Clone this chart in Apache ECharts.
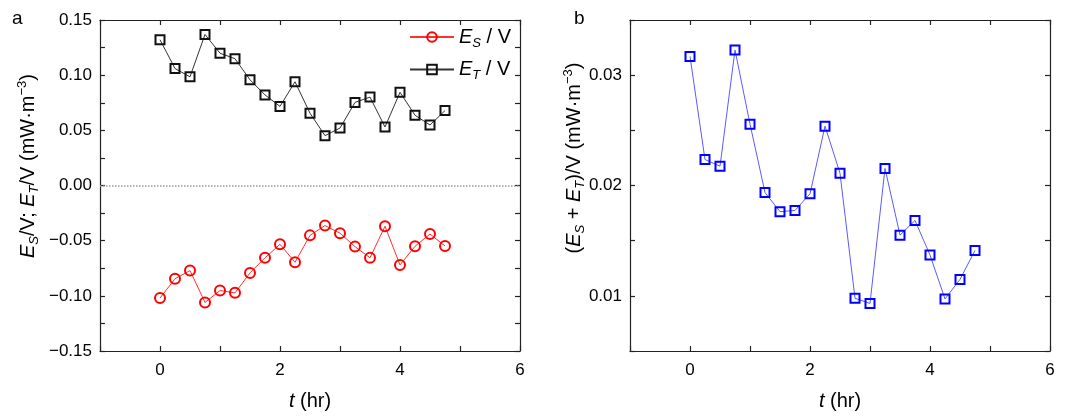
<!DOCTYPE html>
<html>
<head>
<meta charset="utf-8">
<script src="https://cdn.jsdelivr.net/npm/echarts@6/dist/echarts.min.js"></script>
<style>
  html, body { margin: 0; padding: 0; background: #fff; }
  #chart { width: 1078px; height: 416px; }
</style>
</head>
<body>
<div id="chart"></div>
<script>
  // time (hr)
  var times = [0, 0.25, 0.5, 0.75, 1, 1.25, 1.5, 1.75, 2, 2.25, 2.5, 2.75, 3, 3.25, 3.5, 3.75, 4, 4.25, 4.5, 4.75];
  // panel a
  var esV = [-0.102, -0.0845, -0.0771, -0.106, -0.0952, -0.0973, -0.0792, -0.0655, -0.0533, -0.0696,
             -0.0452, -0.0363, -0.0432, -0.0554, -0.0655, -0.0369, -0.072, -0.0551, -0.044, -0.0548];
  var etV = [0.1321, 0.106, 0.0985, 0.1369, 0.1199, 0.1149, 0.0958, 0.0821, 0.0717, 0.094,
             0.0655, 0.0452, 0.0521, 0.0753, 0.0801, 0.053, 0.0845, 0.0637, 0.0548, 0.0679];
  // panel b
  var sumV = [0.0317, 0.02235, 0.02175, 0.03228, 0.02556, 0.01936, 0.01763, 0.01774, 0.01925, 0.02538,
              0.02111, 0.00978, 0.00931, 0.02155, 0.0155, 0.01683, 0.0137, 0.00972, 0.01149, 0.01412];

  var FONT = 'Liberation Sans';
  var rich = {
    e: { fontFamily: FONT, fontSize: 20, fontStyle: 'italic', color: '#000' },
    s: { fontFamily: FONT, fontSize: 13, fontStyle: 'italic', color: '#000', padding: [12, 0, 0, 0] },
    sup: { fontFamily: FONT, fontSize: 13, color: '#000', padding: [0, 0, 12, 0] },
    n: { fontFamily: FONT, fontSize: 20, color: '#000' }
  };

  function pair(a, b) {
    return a.map(function (v, i) { return [v, b[i]]; });
  }

  function baseAxis(gridIndex, pos, extra) {
    var ax = {
      type: 'value',
      gridIndex: gridIndex,
      position: pos,
      axisLine: { show: true, onZero: false, lineStyle: { color: '#222', width: 1.2 } },
      axisTick: { show: true, inside: true, length: 5, lineStyle: { color: '#222', width: 1.2 } },
      axisLabel: { show: false },
      splitLine: { show: false }
    };
    for (var k in extra) ax[k] = extra[k];
    return ax;
  }

  var tickLabel = { show: true, fontFamily: FONT, fontSize: 17, color: '#000' };

  function xAxisFor(g, pos, labels) {
    return baseAxis(g, pos, {
      min: -1, max: 6, interval: 1,
      axisLabel: labels ? Object.assign({}, tickLabel, {
        margin: 11,
        formatter: function (v) { return (v >= 0 && v % 2 === 0) ? String(v) : ''; }
      }) : { show: false },
      name: labels ? '{e|t}{n| (hr)}' : '',
      nameLocation: 'middle',
      nameGap: 40,
      nameTextStyle: { rich: rich }
    });
  }

  function yTitle(x, y, text) {
    return {
      type: 'text', x: x, y: y, rotation: Math.PI / 2,
      style: { text: text, rich: rich, align: 'center', verticalAlign: 'middle' }
    };
  }

  var chart = echarts.init(document.getElementById('chart'));
  chart.setOption({
    animation: false,
    grid: [
      { left: 100, top: 20, width: 420, height: 337 },
      { left: 630, top: 20, width: 420, height: 337 }
    ],
    xAxis: [
      xAxisFor(0, 'bottom', true),
      xAxisFor(0, 'top', false),
      xAxisFor(1, 'bottom', true),
      xAxisFor(1, 'top', false)
    ],
    yAxis: [
      baseAxis(0, 'left', {
        min: -0.15, max: 0.15, interval: 0.025,
        axisLabel: Object.assign({}, tickLabel, {
          margin: 8,
          formatter: function (v) {
            if (Math.abs(Math.round(v * 1000)) % 50 !== 0) return '';
            return v.toFixed(2).replace('-', '\u2212');
          }
        })
      }),
      baseAxis(0, 'right', { min: -0.15, max: 0.15, interval: 0.025 }),
      baseAxis(1, 'left', {
        min: 0.005, max: 0.035, interval: 0.005,
        axisLabel: Object.assign({}, tickLabel, {
          margin: 8,
          formatter: function (v) {
            if (Math.round(v * 1000) % 10 !== 0) return '';
            return v.toFixed(2);
          }
        })
      }),
      baseAxis(1, 'right', { min: 0.005, max: 0.035, interval: 0.005 })
    ],
    legend: {
      orient: 'vertical',
      left: 404,
      top: 22,
      itemWidth: 44,
      itemHeight: 12,
      itemGap: 10,
      data: ['ES', 'ET'],
      formatter: function (name) {
        return name === 'ES' ? '{e|E}{s|S}{n| / V}' : '{e|E}{s|T}{n| / V}';
      },
      textStyle: { rich: rich }
    },
    graphic: [
      { type: 'text', left: 12, top: 9, style: { text: 'a', fontFamily: FONT, fontSize: 19, fill: '#000' } },
      { type: 'text', left: 574, top: 9, style: { text: 'b', fontFamily: FONT, fontSize: 19, fill: '#000' } },
      yTitle(28, 166, '{e|E}{s|S}{n|/V; }{e|E}{s|T}{n|/V (mW·m}{sup|\u22123}{n|)}'),
      yTitle(574, 158, '{n|(}{e|E}{s|S}{n| + }{e|E}{s|T}{n|)/V (mW·m}{sup|\u22123}{n|)}')
    ],
    series: [
      {
        name: 'ES', type: 'line', xAxisIndex: 0, yAxisIndex: 0,
        data: pair(times, esV),
        symbol: 'circle', symbolSize: 10,
        itemStyle: { color: 'rgba(255,255,255,0)', borderColor: '#ff0000', borderWidth: 2 },
        lineStyle: { color: '#ff3030', width: 1 },
        markLine: {
          silent: true, symbol: 'none', label: { show: false },
          lineStyle: { color: '#999', type: 'dotted', width: 1.5 },
          data: [{ yAxis: 0 }]
        }
      },
      {
        name: 'ET', type: 'line', xAxisIndex: 0, yAxisIndex: 0,
        data: pair(times, etV),
        symbol: 'rect', symbolSize: 9,
        itemStyle: { color: 'rgba(255,255,255,0)', borderColor: '#111', borderWidth: 2 },
        lineStyle: { color: '#333', width: 1 }
      },
      {
        name: 'sum', type: 'line', xAxisIndex: 2, yAxisIndex: 2,
        data: pair(times, sumV),
        symbol: 'rect', symbolSize: 9,
        itemStyle: { color: 'rgba(255,255,255,0)', borderColor: '#0000ff', borderWidth: 2 },
        lineStyle: { color: '#5a5aff', width: 1 }
      }
    ]
  });
</script>
</body>
</html>
